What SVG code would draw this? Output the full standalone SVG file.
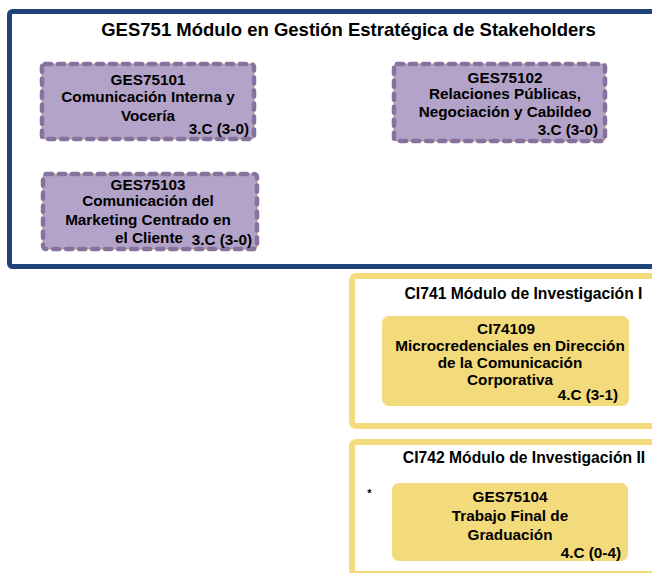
<svg xmlns="http://www.w3.org/2000/svg" width="652" height="573" viewBox="0 0 652 573">
<style>
text{font-family:"Liberation Sans",Arial,sans-serif;font-weight:bold;fill:#000}
.t{font-size:18.5px;text-anchor:middle}
.m{font-size:15.7px;text-anchor:middle}
.b{font-size:15.3px;text-anchor:middle}
.r{font-size:15.3px;text-anchor:end}
.frame{fill:none;stroke:#1f4479;stroke-width:5}
.yf{fill:none;stroke:#f4dc7c;stroke-width:6}
.pb{fill:#b3a3c9;stroke:#c98f6c;stroke-width:1}
.pd{fill:none;stroke:#85739f;stroke-width:4.5;stroke-dasharray:6 7;stroke-linecap:round}
.yb{fill:#f3da7a}
</style>
<g id="ges751">
<rect class="frame" x="9.5" y="11.5" width="700" height="255" rx="3"/>
<text class="t" x="348.5" y="36">GES751 Módulo en Gestión Estratégica de Stakeholders</text>
</g>
<g id="ges75101">
<rect class="pb" x="42" y="64" width="212" height="75" rx="3"/>
<rect class="pd" x="42" y="64" width="212" height="75" rx="3"/>
<text class="b" x="148" y="85">GES75101</text>
<text class="b" x="148" y="102">Comunicación Interna y</text>
<text class="b" x="148" y="121">Vocería</text>
<text class="r" x="249" y="134">3.C (3-0)</text>
</g>
<g id="ges75102">
<rect class="pb" x="394" y="64" width="211" height="77" rx="3"/>
<rect class="pd" x="394" y="64" width="211" height="77" rx="3"/>
<text class="b" x="505" y="83">GES75102</text>
<text class="b" x="505" y="99">Relaciones Públicas,</text>
<text class="b" x="505" y="117">Negociación y Cabildeo</text>
<text class="r" x="598" y="135">3.C (3-0)</text>
</g>
<g id="ges75103">
<rect class="pb" x="43" y="174" width="214" height="75" rx="3"/>
<rect class="pd" x="43" y="174" width="214" height="75" rx="3"/>
<text class="b" x="148" y="189.5">GES75103</text>
<text class="b" x="148" y="206">Comunicación del</text>
<text class="b" x="148" y="225">Marketing Centrado en</text>
<text class="b" x="149" y="243">el Cliente</text>
<text class="r" x="252" y="245">3.C (3-0)</text>
</g>
<g id="ci741">
<rect class="yf" x="352" y="276" width="400" height="150" rx="4"/>
<text class="m" x="523.5" y="299">CI741 Módulo de Investigación I</text>
</g>
<g id="ci74109">
<rect class="yb" x="382" y="316" width="247" height="90" rx="7"/>
<text class="b" x="506" y="334">CI74109</text>
<text class="b" x="510" y="351">Microcredenciales en Dirección</text>
<text class="b" x="510" y="368">de la Comunicación</text>
<text class="b" x="510" y="385">Corporativa</text>
<text class="r" x="618" y="400">4.C (3-1)</text>
</g>
<g id="ci742">
<rect class="yf" x="352" y="442" width="400" height="132" rx="4"/>
<text class="m" x="524" y="463">CI742 Módulo de Investigación II</text>
<text x="369.5" y="497" style="font-size:11px;text-anchor:middle">*</text>
</g>
<g id="ges75104">
<rect class="yb" x="392" y="483" width="236" height="78" rx="7"/>
<text class="b" x="510" y="502">GES75104</text>
<text class="b" x="510" y="521">Trabajo Final de</text>
<text class="b" x="510" y="540">Graduación</text>
<text class="r" x="621" y="558">4.C (0-4)</text>
</g>
<g id="connectors"></g>
</svg>
